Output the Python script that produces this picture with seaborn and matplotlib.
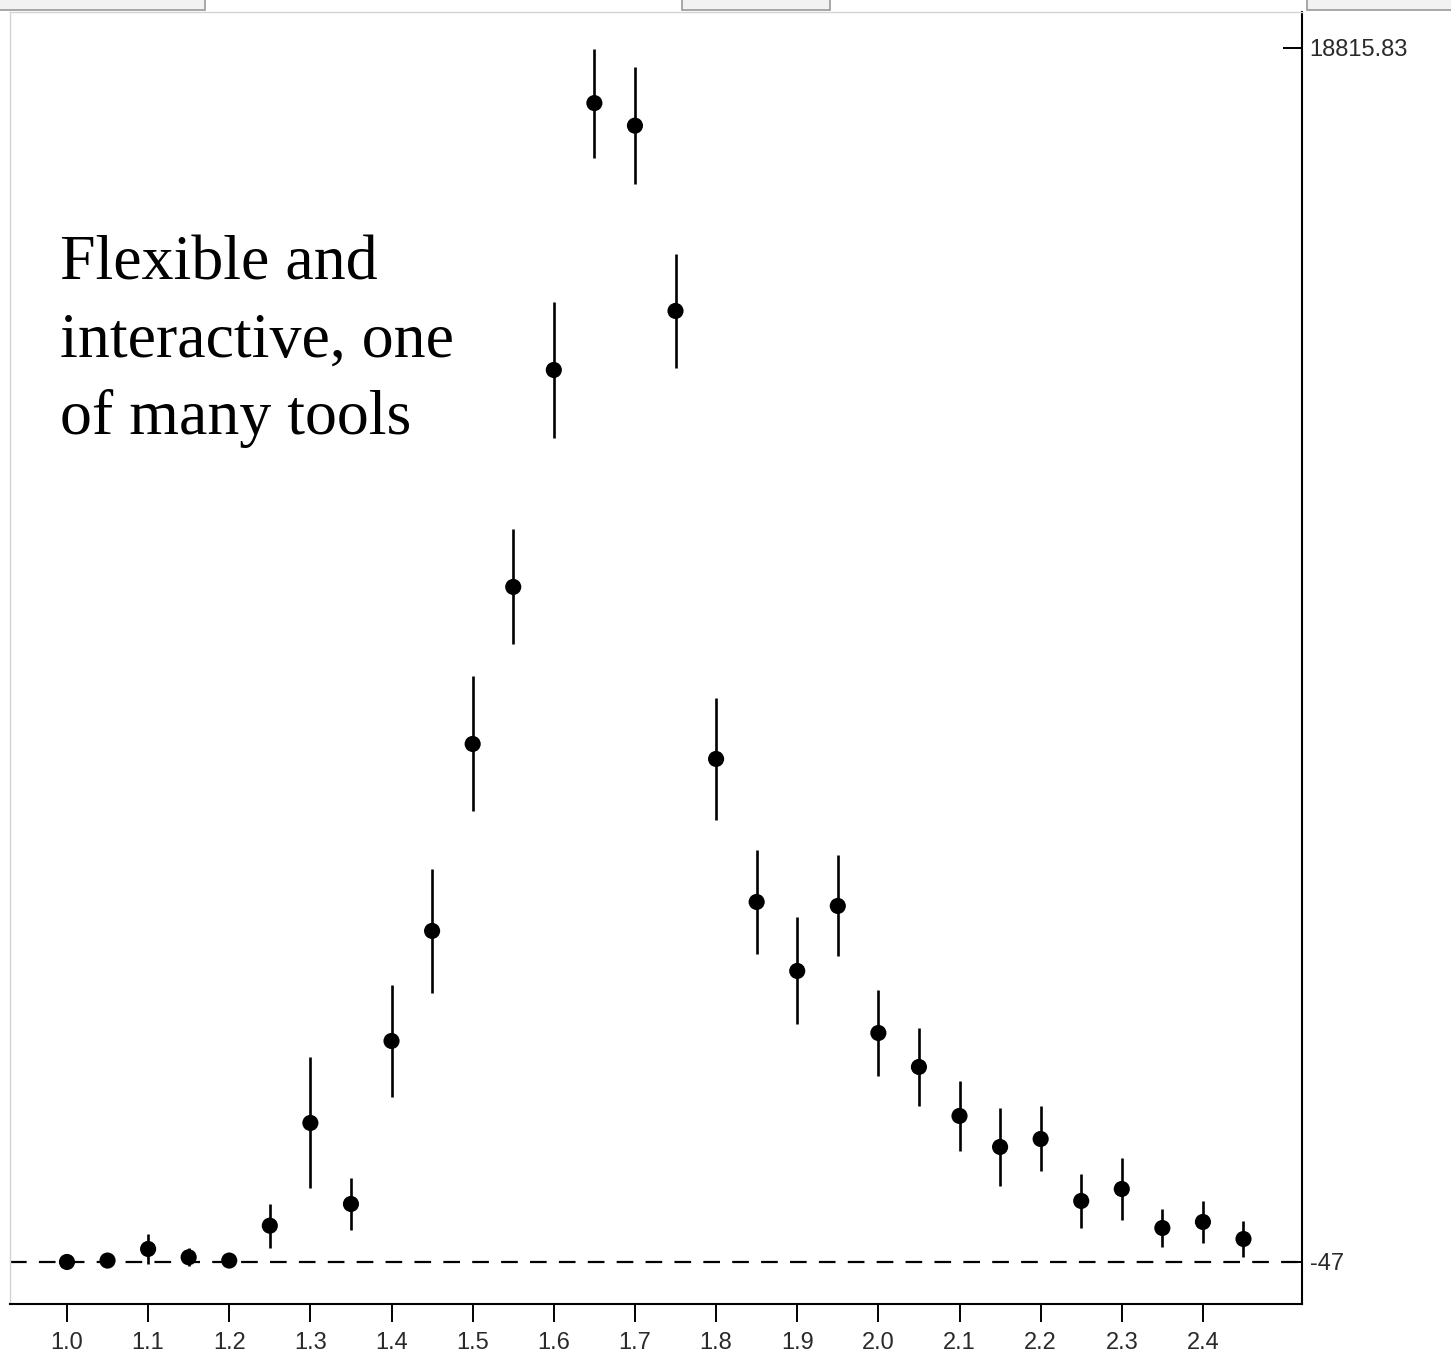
import matplotlib
matplotlib.use("Agg")
import matplotlib.pyplot as plt
from matplotlib.patches import Rectangle
import pandas as pd
import seaborn as sns

# ── Data ──────────────────────────────────────────────────────
bin_centre = [1.00, 1.05, 1.10, 1.15, 1.20, 1.25, 1.30, 1.35, 1.40, 1.45,
              1.50, 1.55, 1.60, 1.65, 1.70, 1.75, 1.80, 1.85, 1.90, 1.95,
              2.00, 2.05, 2.10, 2.15, 2.20, 2.25, 2.30, 2.35, 2.40, 2.45]
counts = [-47, -25, 155, 26, -25, 517, 2113, 854, 3387, 5097,
          8002, 10442, 13813, 17960, 17609, 14730, 7769, 5547, 4475, 5485,
          3511, 2983, 2222, 1740, 1864, 901, 1087, 481, 575, 310]
errors = [0, 0, 240, 142, 0, 342, 1018, 404, 870, 963,
          1049, 893, 1057, 846, 906, 886, 948, 808, 831, 785,
          668, 606, 544, 606, 505, 420, 489, 295, 326, 280]

x_ticks = [1.0, 1.1, 1.2, 1.3, 1.4, 1.5, 1.6, 1.7, 1.8, 1.9,
           2.0, 2.1, 2.2, 2.3, 2.4]
y_max_label = 18815.83
y_min_label = -47

caption_lines = ["Flexible and", "interactive, one", "of many tools"]

df = pd.DataFrame({"x": bin_centre, "y": counts, "err": errors})

# ── Style ─────────────────────────────────────────────────────
sns.set_style("white")
plt.rcParams["font.family"] = ["Liberation Sans Narrow", "Liberation Sans", "DejaVu Sans"]

W, H = 1451, 1361
fig = plt.figure(figsize=(W / 100, H / 100), dpi=100)
ax = fig.add_axes([10 / W, 1 - 1304 / H, 1292 / W, 1292 / H])

# baseline
ax.axhline(y_min_label, color="black", lw=1.6, dashes=(7.5, 5.5), zorder=1)

# error bars + points
ax.errorbar(df["x"], df["y"], yerr=df["err"], fmt="none",
            ecolor="black", elinewidth=1.9, capsize=0, zorder=2)
sns.scatterplot(data=df, x="x", y="y", color="black", s=135,
                marker="o", edgecolor="none", zorder=3, ax=ax)

ax.set_xlim(0.9298, 2.5221)
ax.set_ylim(-700, 19375)
ax.set_xlabel("")
ax.set_ylabel("")

ax.set_xticks(x_ticks)
ax.set_xticklabels([f"{t:.1f}" for t in x_ticks])
ax.yaxis.tick_right()
ax.set_yticks([y_max_label, y_min_label])
ax.set_yticklabels(["18815.83", "-47"])

ax.tick_params(axis="x", direction="out", length=13, width=1.4,
               pad=7, labelsize=17, colors="black", labelcolor="#2a2a2a",
               bottom=True)
ax.tick_params(axis="y", direction="in", length=14, width=1.4,
               pad=5.5, labelsize=17, colors="black", labelcolor="#2a2a2a",
               right=True, left=False)

for side in ["bottom", "right"]:
    ax.spines[side].set_color("black")
    ax.spines[side].set_linewidth(1.5)
for side in ["left", "top"]:
    ax.spines[side].set_color("#d4d4d4")
    ax.spines[side].set_linewidth(1.0)

# caption
for i, line in enumerate(caption_lines):
    fig.text(60 / W, 1 - (280 + 77 * i) / H, line, family="Liberation Serif",
             fontsize=46, va="baseline", ha="left", color="black")

# toolbar buttons at the very top
for x0, x1 in [(-5, 205), (682, 830), (1307, 1460)]:
    fig.patches.append(Rectangle((x0 / W, 1 - 10 / H), (x1 - x0) / W, 14 / H,
                                 transform=fig.transFigure, facecolor="#f2f2f2",
                                 edgecolor="#9a9a9a", lw=1.2))

fig.savefig("out.png", dpi=100)
